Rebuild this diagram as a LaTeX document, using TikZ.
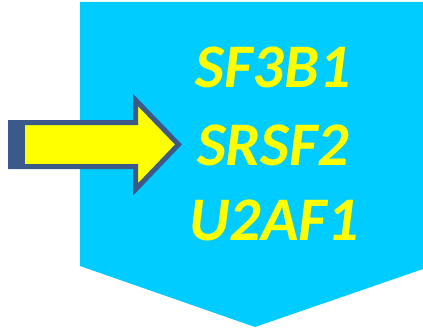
\documentclass[tikz,border=0pt]{standalone}
\usepackage{fontspec}
\setmainfont{Carlito}
\definecolor{cyanbg}{HTML}{00CCFF}
\definecolor{arrowyellow}{HTML}{FFFF00}
\definecolor{arrowblue}{HTML}{3B5A8A}
\begin{document}
\begin{tikzpicture}[x=1pt,y=-1pt,
  gene/.style={text=arrowyellow,font=\fontsize{62}{62}\selectfont\bfseries\itshape,anchor=base,inner sep=0pt}]
\useasboundingbox (0,0) rectangle (423,329);
% pentagon
\fill[cyanbg] (80,2) -- (423,2) -- (423,269) -- (255,327) -- (80,266) -- cycle;
% arrow
\draw[arrowblue,line width=5pt,fill=arrowyellow,line join=miter]
  (10.5,122.5) -- (135.5,122.5) -- (135.5,100) -- (178.5,144.5) -- (135.5,189.5) -- (135.5,166.5) -- (10.5,166.5) -- cycle;
\fill[arrowblue] (8,120) rectangle (25,169);
% texts
\node[gene] (g1) at (273,88) {SF3B1};
\node[gene] (g2) at (273,165) {SRSF2};
\node[gene] (g3) at (274,240) {U2AF1};
\end{tikzpicture}
\end{document}
